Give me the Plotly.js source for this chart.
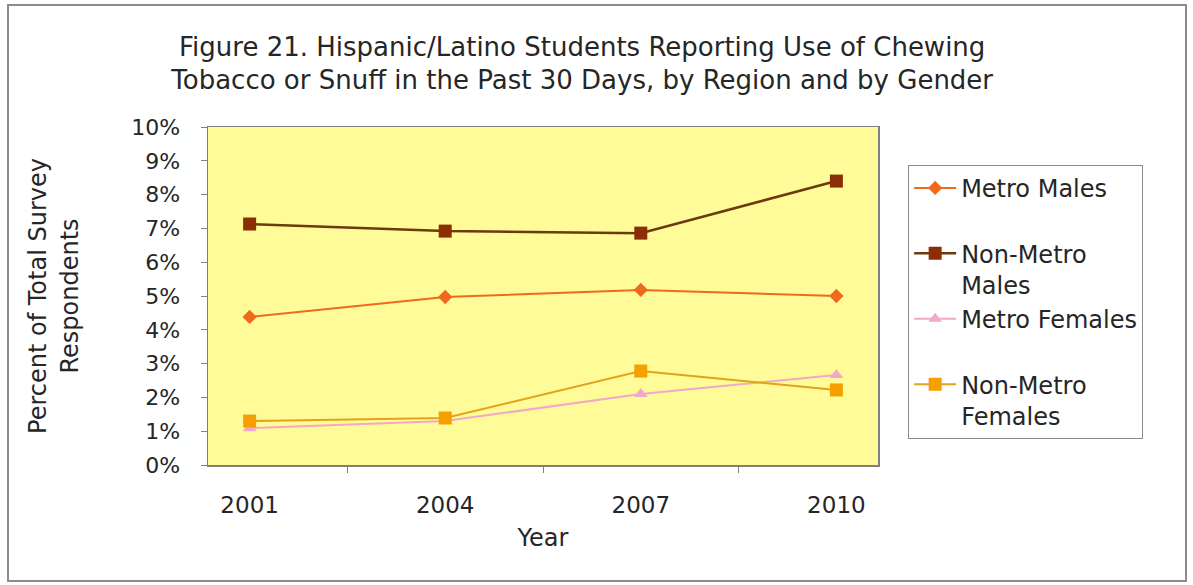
<!DOCTYPE html>
<html>
<head>
<meta charset="utf-8">
<script src="https://cdn.plot.ly/plotly-3.0.1.min.js"></script>
<style>
  html, body { margin: 0; padding: 0; background: #ffffff; }
  #chart { position: absolute; left: 0; top: 0; width: 1193px; height: 585px; }
  #frame { position: absolute; left: 7px; top: 4px; width: 1176px; height: 574px; border: 2px solid #8c8c8c; pointer-events: none; }
</style>
</head>
<body>
<div id="chart"></div>
<div id="frame"></div>
<script>
const years = ['2001', '2004', '2007', '2010'];
const metroMales = [4.38, 4.97, 5.18, 5.0];
const nonMetroMales = [7.13, 6.92, 6.86, 8.40];
const metroFemales = [1.09, 1.30, 2.10, 2.66];
const nonMetroFemales = [1.30, 1.39, 2.78, 2.22];
const seriesNames = ['Metro Males<br> ', 'Non-Metro<br>Males', 'Metro Females<br> ', 'Non-Metro<br>Females'];
const yTickVals = [0, 1, 2, 3, 4, 5, 6, 7, 8, 9, 10];
const yTickText = ['0%', '1%', '2%', '3%', '4%', '5%', '6%', '7%', '8%', '9%', '10%'];

const font = 'DejaVu Sans, Liberation Sans, Arial, sans-serif';

const traces = [
  { x: years, y: metroMales, name: seriesNames[0], mode: 'lines+markers',
    line: { color: '#F06A1E', width: 2 }, marker: { symbol: 'diamond', size: 11, color: '#F06A1E' } },
  { x: years, y: nonMetroMales, name: seriesNames[1], mode: 'lines+markers',
    line: { color: '#6B3A0E', width: 2.5 }, marker: { symbol: 'square', size: 13, color: '#8B2E05' } },
  { x: years, y: metroFemales, name: seriesNames[2], mode: 'lines+markers',
    line: { color: '#F2A8C8', width: 2 }, marker: { symbol: 'triangle-up', size: 12, color: '#F2A8C8' } },
  { x: years, y: nonMetroFemales, name: seriesNames[3], mode: 'lines+markers',
    line: { color: '#E3A21A', width: 2 }, marker: { symbol: 'square', size: 13, color: '#F5A000' } }
];
traces.forEach(t => t.cliponaxis = false);

const layout = {
  width: 1193, height: 585,
  paper_bgcolor: 'rgba(0,0,0,0)',
  plot_bgcolor: '#FFFB99',
  margin: { l: 208, r: 315, t: 127, b: 120 },
  font: { family: font, size: 22, color: '#262626' },
  title: {
    text: 'Figure 21. Hispanic/Latino Students Reporting Use of Chewing<br>Tobacco or Snuff in the Past 30 Days, by Region and by Gender',
    font: { family: font, size: 26, color: '#262626' },
    x: 0.488, xanchor: 'center', y: 0.905, yanchor: 'middle'
  },
  xaxis: {
    type: 'category',
    title: { text: 'Year', font: { size: 24 }, standoff: 12 },
    showgrid: false, showline: true, linecolor: '#7f7f7f', linewidth: 1.5, mirror: true,
    ticks: 'outside', ticklen: 6, tickcolor: '#7f7f7f', tickson: 'boundaries',
    ticklabelstandoff: 19,
    tickfont: { size: 23 }, zeroline: false
  },
  yaxis: {
    title: { text: 'Percent of Total Survey<br>Respondents', font: { size: 24 }, standoff: 46 },
    range: [0, 10], tickmode: 'array', tickvals: yTickVals, ticktext: yTickText,
    showgrid: false, showline: true, linecolor: '#7f7f7f', linewidth: 1.5, mirror: true,
    ticks: 'outside', ticklen: 6, tickcolor: '#7f7f7f',
    ticklabelstandoff: 16,
    tickfont: { size: 22 }, zeroline: false
  },
  legend: {
    x: 1.045, y: 0.888, xanchor: 'left', yanchor: 'top',
    bgcolor: '#ffffff', bordercolor: '#8c8c8c', borderwidth: 1,
    font: { family: font, size: 24, color: '#262626' },
    valign: 'top', tracegroupgap: 0, itemwidth: 42
  },
  showlegend: true
};

Plotly.newPlot('chart', traces, layout, { displayModeBar: false, staticPlot: true });
</script>
</body>
</html>
